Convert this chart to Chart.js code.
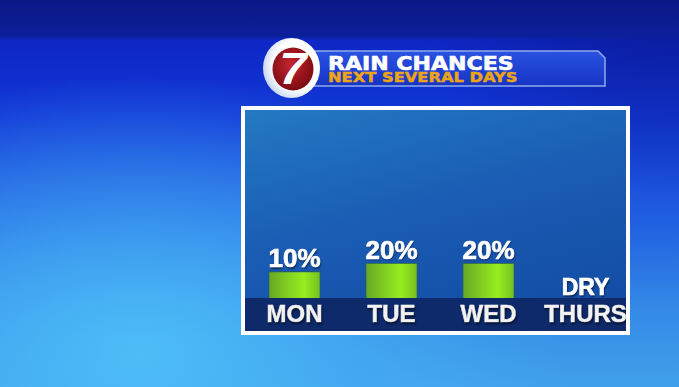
<!DOCTYPE html>
<html>
<head>
<meta charset="utf-8">
<script src="https://cdn.jsdelivr.net/npm/chart.js@4.4.1/dist/chart.umd.min.js"></script>
<style>
  html, body { margin: 0; padding: 0; }
  body {
    width: 679px; height: 387px; overflow: hidden; position: relative;
    font-family: "Liberation Sans", Arial, sans-serif;
    background:
      linear-gradient(180deg, #0a1886 0px, #0c1f9a 36px, rgba(14,36,180,0) 40px),
      radial-gradient(ellipse 260px 200px at 679px 0px, rgba(6,12,100,0.45) 0%, rgba(6,12,100,0) 100%),
      radial-gradient(ellipse 430px 280px at 140px 355px, #4dbdf7 0%, rgba(70,176,245,0.6) 50%, rgba(40,120,230,0) 100%),
      linear-gradient(180deg, #0e26c4 38px, #1238d8 120px, #1f5ce0 215px, #348ae6 310px, #42a0ea 387px);
  }
  #banner { position: absolute; left: 0; top: 0; }
  .ttl { position: absolute; left: 328px; white-space: nowrap; font-family: "DejaVu Sans", sans-serif; font-weight: bold; transform: scaleX(1.16); transform-origin: left top; }
  #t1 { top: 54px; font-size: 19px; line-height: 19px; color: #ffffff; -webkit-text-stroke: 0.6px #ffffff; }
  #t2 { top: 70px; font-size: 14px; line-height: 14px; color: #eca418; -webkit-text-stroke: 0.5px #eca418; }
  #seven { position: absolute; left: 271px; top: 46px; width: 44px; text-align: center; font: italic bold 44px/46px "Liberation Sans", Arial, sans-serif; color: #fff; transform: scaleX(1.12); }
  #panel {
    position: absolute; left: 241px; top: 106px; width: 389px; height: 229px;
    box-sizing: border-box; border: 4px solid #ffffff; overflow: hidden;
    background: linear-gradient(165deg, #2479c2 0%, #1a5cb4 45%, #1249a2 100%);
  }
  #wrap { position: absolute; left: 0; top: 0; width: 389px; height: 221px; }
</style>
</head>
<body>
<svg id="banner" width="679" height="110">
  <defs>
    <linearGradient id="bg" x1="0" y1="0" x2="0" y2="1">
      <stop offset="0" stop-color="#2a52e2"/>
      <stop offset="1" stop-color="#1634c4"/>
    </linearGradient>
    <radialGradient id="red" cx="0.45" cy="0.4" r="0.6">
      <stop offset="0" stop-color="#c42530"/>
      <stop offset="1" stop-color="#7c0b12"/>
    </radialGradient>
    <radialGradient id="ring" cx="0.6" cy="0.45" r="0.6">
      <stop offset="0.7" stop-color="#ffffff"/>
      <stop offset="1" stop-color="#c8d8f2"/>
    </radialGradient>
  </defs>
  <polygon points="300,51 598,51 605,58 605,86 300,86" fill="url(#bg)" stroke="#8eaaea" stroke-width="1.5"/>
  <ellipse cx="291.5" cy="68" rx="28.5" ry="30" fill="url(#ring)"/>
  <ellipse cx="293" cy="69" rx="20.5" ry="21.5" fill="url(#red)"/>
</svg>
<div id="seven">7</div>
<div class="ttl" id="t1">RAIN CHANCES</div>
<div class="ttl" id="t2">NEXT SEVERAL DAYS</div>

<div id="panel">
  <div id="wrap"><canvas id="rainChart"></canvas></div>
</div>

<script>
const days = ["MON", "TUE", "WED", "THURS"];
const rainChances = [10, 20, 20, 0];
const dryLabel = "DRY";

const BAR_BASE = -22;

// dark strip under the bars + shadow for the day names
const bandPlugin = {
  id: "band",
  beforeDraw(chart) {
    const { ctx, chartArea } = chart;
    ctx.save();
    ctx.fillStyle = "#0f2a6b";
    ctx.fillRect(0, chartArea.bottom, chart.width, chart.height - chartArea.bottom);
    ctx.restore();
    ctx.shadowColor = "rgba(0,0,0,0.45)";
    ctx.shadowBlur = 2;
    ctx.shadowOffsetX = 1;
    ctx.shadowOffsetY = 1.5;
  },
  beforeDatasetsDraw(chart) {
    chart.ctx.shadowColor = "transparent";
  }
};

const valuePlugin = {
  id: "values",
  afterDatasetsDraw(chart) {
    const ctx = chart.ctx;
    const meta = chart.getDatasetMeta(0);
    ctx.save();
    ctx.fillStyle = "#ffffff";
    ctx.strokeStyle = "#ffffff";
    ctx.lineWidth = 0.7;
    ctx.textAlign = "center";
    ctx.textBaseline = "alphabetic";
    meta.data.forEach((bar, i) => {
      const v = rainChances[i];
      const txt = v === 0 ? dryLabel : v + "%";
      const y = v === 0 ? bar.base - 3 : bar.y - 4;
      ctx.font = v === 0 ? "bold 23px 'Liberation Sans', Arial, sans-serif" : "bold 26px 'Liberation Sans', Arial, sans-serif";
      ctx.shadowColor = "rgba(0,0,0,0.5)";
      ctx.shadowBlur = 2;
      ctx.shadowOffsetX = 1;
      ctx.shadowOffsetY = 1.5;
      ctx.fillText(txt, bar.x, y);
      ctx.shadowColor = "transparent";
      ctx.strokeText(txt, bar.x, y);
    });
    ctx.restore();
  }
};

function barFill(c) {
  if (c.raw === 0) return "transparent";
  const chart = c.chart;
  if (!chart.chartArea || !chart.scales.x) return "#8ee01e";
  const x = chart.scales.x.getPixelForValue(c.dataIndex);
  const g = chart.ctx.createLinearGradient(x - 26, 0, x + 26, 0);
  g.addColorStop(0, "#66a626");
  g.addColorStop(0.35, "#80cc22");
  g.addColorStop(0.68, "#96ee1e");
  g.addColorStop(1, "#74bd20");
  return g;
}

new Chart(document.getElementById("rainChart"), {
  type: "bar",
  data: {
    labels: days,
    datasets: [{
      data: rainChances,
      base: BAR_BASE,
      backgroundColor: barFill,
      borderColor: (c) => c.raw === 0 ? "transparent" : "rgba(50,100,20,0.7)",
      borderWidth: 1,
      barPercentage: 0.54,
      categoryPercentage: 1.0
    }]
  },
  options: {
    responsive: true,
    maintainAspectRatio: false,
    animation: false,
    layout: { padding: { left: 1, right: 0, top: 0, bottom: 0 } },
    plugins: {
      legend: { display: false },
      tooltip: { enabled: false }
    },
    scales: {
      x: {
        offset: true,
        grid: { display: false, drawTicks: false },
        border: { display: false },
        ticks: {
          color: "#f2f2f2",
          textStrokeColor: "#f2f2f2",
          textStrokeWidth: 0.6,
          padding: 3,
          maxRotation: 0,
          autoSkip: false,
          font: { family: "'Liberation Sans', Arial, sans-serif", size: 24, weight: "bold" }
        },
        afterFit(scale) { scale.height = 33; }
      },
      y: {
        display: false,
        min: BAR_BASE,
        max: 202
      }
    }
  },
  plugins: [bandPlugin, valuePlugin]
});
</script>
</body>
</html>
